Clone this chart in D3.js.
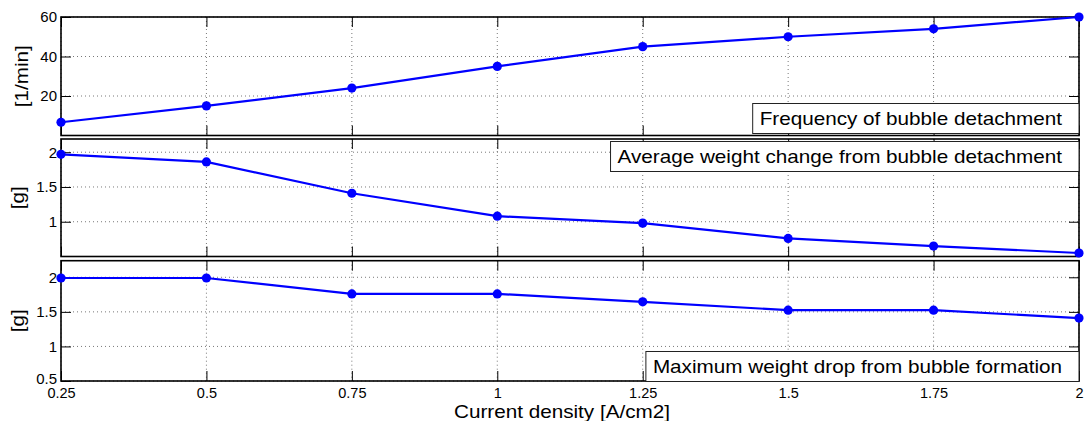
<!DOCTYPE html>
<html>
<head>
<meta charset="utf-8">
<script src="https://cdn.jsdelivr.net/npm/d3@7"></script>
<style>
  html, body { margin: 0; padding: 0; background: #fff; }
  svg { display: block; }
  text { font-family: "Liberation Sans", Arial, Helvetica, sans-serif; fill: #000; }
</style>
</head>
<body>
<svg id="chart" width="1087" height="421"></svg>
<script>
// Current density values (A/cm2) shared by all three panels
const currentDensity = [0.25, 0.5, 0.75, 1, 1.25, 1.5, 1.75, 2];
const xTickLabels = ["0.25", "0.5", "0.75", "1", "1.25", "1.5", "1.75", "2"];

// Series
const detachFrequency = [6.7, 15, 24, 35, 45, 50, 54, 60];          // [1/min]
const avgWeightChange = [1.97, 1.86, 1.41, 1.08, 0.98, 0.76, 0.65, 0.55]; // [g]
const maxWeightDrop   = [1.99, 1.99, 1.76, 1.76, 1.645, 1.525, 1.525, 1.41]; // [g]

// Y axis ticks / limits per panel
const yTicksFreq = [20, 40, 60];
const yTicksAvg  = [1, 1.5, 2];
const yTicksMax  = [0.5, 1, 1.5, 2];
const yDomainFreq = [0, 60];
const yDomainAvg  = [0.5, 2.19];
const yDomainMax  = [0.5, 2.24];

const yLabels = ["[1/min]", "[g]", "[g]"];
const legendTexts = [
  "Frequency of bubble detachment",
  "Average weight change from bubble detachment",
  "Maximum weight drop from bubble formation"
];
const xLabel = "Current density [A/cm2]";

const svg = d3.select("#chart");
const left = 61, right = 1079;
const tickLen = 10;
const stretch = 1.15;

const x = d3.scaleLinear().domain([0.25, 2]).range([left, right]);

const panels = [
  { top: 17,    bottom: 135.5, values: detachFrequency, ticks: yTicksFreq, domain: yDomainFreq,
    ylabel: yLabels[0], ylabelX: 27.7, legend: legendTexts[0], legendPos: "bottom", legendY: 133.5 },
  { top: 139,   bottom: 256.5, values: avgWeightChange, ticks: yTicksAvg, domain: yDomainAvg,
    ylabel: yLabels[1], ylabelX: 23.7, legend: legendTexts[1], legendPos: "top", legendY: 141.5 },
  { top: 260.7, bottom: 381,   values: maxWeightDrop, ticks: yTicksMax, domain: yDomainMax,
    ylabel: yLabels[2], ylabelX: 23.7, legend: legendTexts[2], legendPos: "bottom", legendY: 381.5 }
];

panels.forEach((p, i) => {
  const y = d3.scaleLinear().domain(p.domain).range([p.bottom, p.top]);
  const g = svg.append("g");

  // dotted grid
  const grid = g.append("g")
    .attr("stroke", "#555").attr("stroke-width", 0.8).attr("stroke-dasharray", "1,3");
  grid.selectAll(".vg").data(currentDensity).join("line")
    .attr("x1", d => x(d)).attr("x2", d => x(d))
    .attr("y1", p.top).attr("y2", p.bottom);
  grid.selectAll(".hg").data(p.ticks).join("line")
    .attr("x1", left).attr("x2", right)
    .attr("y1", d => y(d)).attr("y2", d => y(d));

  // axes with inward ticks on all four sides
  const leftAxis = d3.axisLeft(y).tickValues(p.ticks).tickSize(-tickLen).tickPadding(4)
    .tickFormat(d3.format(""));
  const la = g.append("g").attr("transform", `translate(${left},0)`).call(leftAxis);
  la.selectAll("text").style("font-size", "15px").attr("font-family", null);
  // lift the lowest label a touch so it clears the first x tick label
  la.selectAll("text").filter(d => d === p.domain[0]).attr("y", -2.5);

  g.append("g").attr("transform", `translate(${right},0)`)
    .call(d3.axisRight(y).tickValues(p.ticks).tickSize(-tickLen).tickFormat(""));
  g.append("g").attr("transform", `translate(0,${p.top})`)
    .call(d3.axisTop(x).tickValues(currentDensity).tickSize(-tickLen).tickFormat(""));

  const bottomAxis = d3.axisBottom(x).tickValues(currentDensity).tickSize(-tickLen).tickPadding(6.5)
    .tickFormat(i === 2 ? ((d, k) => xTickLabels[k]) : "");
  const ba = g.append("g").attr("transform", `translate(0,${p.bottom})`).call(bottomAxis);
  ba.selectAll("text").style("font-size", "14.5px").attr("font-family", null);

  g.selectAll(".domain").remove();
  g.selectAll(".tick line").attr("stroke", "#000").attr("stroke-width", 1);

  // frame
  g.append("rect")
    .attr("x", left).attr("y", p.top)
    .attr("width", right - left).attr("height", p.bottom - p.top)
    .attr("fill", "none").attr("stroke", "#000").attr("stroke-width", 1.6);

  // y label
  g.append("text")
    .attr("transform", `translate(${p.ylabelX},${(p.top + p.bottom) / 2}) rotate(-90) scale(${stretch},1)`)
    .attr("text-anchor", "middle")
    .style("font-size", "18px")
    .text(p.ylabel);

  // series line and markers
  const pts = currentDensity.map((d, k) => [d, p.values[k]]);
  g.append("path").datum(pts)
    .attr("fill", "none").attr("stroke", "#0000ff").attr("stroke-width", 2.2)
    .attr("d", d3.line().x(d => x(d[0])).y(d => y(d[1])));
  g.selectAll(".pt").data(pts).join("circle")
    .attr("cx", d => x(d[0])).attr("cy", d => y(d[1]))
    .attr("r", 4.6).attr("fill", "#0000ff");

  // legend box (text only)
  const boxH = 30;
  const boxTop = p.legendPos === "top" ? p.legendY : p.legendY - boxH;
  const lg = svg.append("g");
  const box = lg.append("rect");
  const txt = lg.append("text")
    .attr("text-anchor", "end")
    .attr("transform", `translate(${right - 17},${boxTop + boxH / 2 + 6.5}) scale(${stretch},1)`)
    .style("font-size", "18px")
    .text(p.legend);
  const w = txt.node().getComputedTextLength() * stretch;
  box.attr("x", right - 17 - w - 7).attr("y", boxTop)
    .attr("width", w + 24).attr("height", boxH)
    .attr("fill", "#fff").attr("stroke", "#222").attr("stroke-width", 1);
});

// x label
svg.append("text")
  .attr("transform", `translate(562,417.5) scale(${stretch},1)`)
  .attr("text-anchor", "middle")
  .style("font-size", "18px")
  .text(xLabel);
</script>
</body>
</html>
